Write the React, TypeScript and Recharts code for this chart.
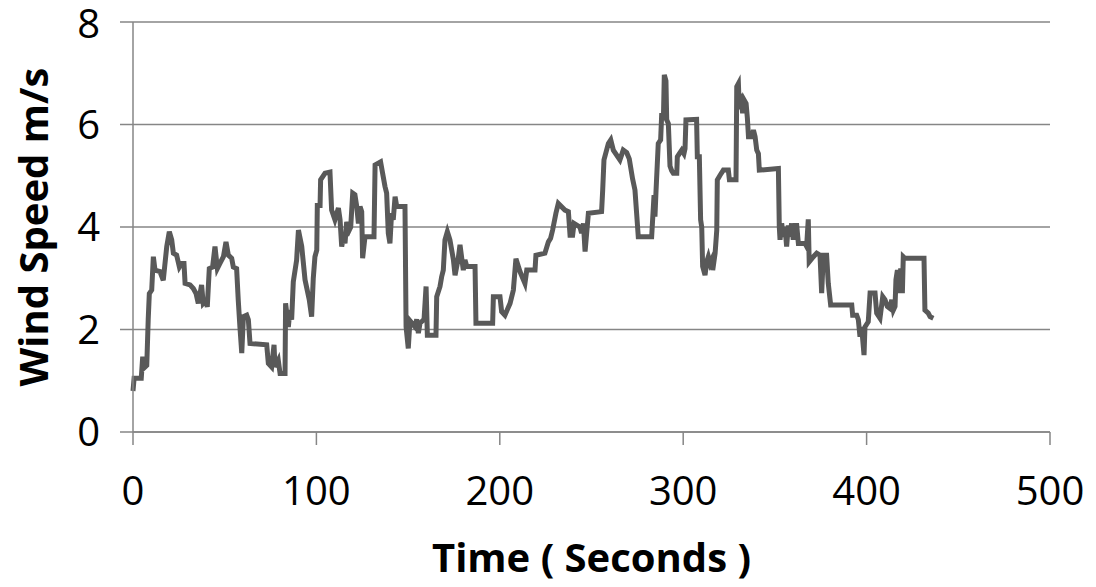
import { LineChart, Line, XAxis, YAxis, CartesianGrid, Label } from 'recharts';

// time (s) and wind speed (m/s)
const timeSec = [
  0, 0.6, 4.5, 5.3, 6, 7.5, 8.3, 8.9, 10.2, 11.1, 12, 14.7, 16.5, 18.4, 19.8, 21.1, 22, 23.8, 25.3, 26.5,
  27.8, 28.4, 31.1, 32.9, 34.4, 35.6, 37.4, 38.3, 39.8, 40.5, 41.6, 43.4, 44.7, 46, 47.4, 49.3, 50.7, 52, 53.8, 54.7,
  56.5, 57.4, 58.3, 59.3, 60.2, 62, 62.9, 63.8, 72.9, 73.8, 75.6, 76.9, 77.4, 79.2, 80.2, 82.9, 83.2, 84.7, 85.6, 86.5,
  87.4, 89.2, 90.2, 92, 93.8, 96.1, 97.4, 98.3, 99.2, 100.2, 100.5, 102, 102.3, 104.7, 107.4, 108.3, 110.1, 112, 112.9, 113.8,
  114.7, 115.6, 116.5, 117.9, 118.7, 119.8, 121, 122, 122.9, 123.8, 124.7, 125.2, 126.5, 131.4, 132, 135, 136.1, 137.4, 138.3, 139.2,
  140.1, 141, 141.9, 142.9, 143.8, 148.3, 148.9, 150.1, 151, 153.8, 154.7, 155.6, 156.5, 158.7, 159.8, 160.5, 165.2, 165.6, 167.4, 168.3,
  169.2, 170.1, 171.4, 172.8, 174.7, 175.6, 177.4, 178.3, 180.1, 181, 182, 186.5, 187, 196.1, 196.5, 200.1, 201, 202.8, 205.6, 207.4,
  208.8, 211, 213.7, 214.7, 219.2, 219.7, 224.6, 226.5, 227.7, 228.8, 230.6, 231.9, 235.5, 237.4, 238.3, 239.7, 240.5, 243.7, 244.6, 245.6,
  246.5, 248.3, 255.5, 256.1, 256.8, 259.2, 260.5, 261.9, 265.5, 267.3, 269.2, 270.6, 272.4, 273.7, 274.6, 275.5, 282.8, 284.1, 284.6, 285.2,
  286.4, 287.7, 288.3, 289.2, 289.7, 290.6, 291, 291.9, 292.8, 293.7, 294.6, 296.5, 296.8, 297.9, 299.2, 300.4, 301, 301.5, 307.3, 307.7,
  308.8, 309.5, 310.1, 310.6, 311.9, 312.8, 313.7, 314.6, 315.5, 316.1, 317.4, 318.3, 318.6, 320.1, 321.9, 324.6, 325.2, 328.8, 329.2, 330.1,
  330.6, 331.5, 332.4, 333.2, 334.3, 335, 335.6, 337.4, 338.3, 339.2, 340.1, 341, 341.5, 351.9, 352.4, 352.8, 353.7, 354.6, 355.5, 356.4,
  357.3, 358.2, 359.1, 360, 360.9, 361.9, 362.8, 366.4, 367.3, 368.2, 368.7, 371, 372.8, 374.6, 375.5, 376.4, 378.2, 379.1, 380.4, 391.9,
  392.4, 394.6, 395.5, 396.4, 397.3, 398.6, 399.1, 400.9, 401.9, 404.6, 405.5, 407.3, 408.8, 410, 411.3, 412.8, 413.7, 414.6, 415.5, 416,
  416.8, 417.7, 418.6, 419.5, 420, 420.9, 431.3, 431.8, 433.6, 434.6, 436.4,
];

const windSpeed = [
  0.8, 1.05, 1.05, 1.47, 1.25, 1.3, 2.2, 2.7, 2.77, 3.42, 3.16, 3.13, 2.96, 3.62, 3.91, 3.75, 3.49, 3.45, 3.22, 3.29,
  3.29, 2.9, 2.87, 2.8, 2.7, 2.51, 2.87, 2.51, 2.57, 2.44, 3.19, 3.22, 3.62, 3.19, 3.29, 3.42, 3.71, 3.45, 3.39, 3.22,
  3.19, 2.57, 2.05, 1.54, 2.25, 2.28, 2.19, 1.73, 1.7, 1.34, 1.27, 1.7, 1.27, 1.4, 1.14, 1.14, 2.51, 2.05, 2.38, 2.19,
  2.93, 3.35, 3.94, 3.62, 2.97, 2.58, 2.25, 3.0, 3.42, 3.55, 4.42, 4.42, 4.92, 5.05, 5.07, 4.33, 4.14, 4.37, 4.14, 3.62,
  3.81, 3.68, 4.1, 3.94, 4.0, 4.66, 4.63, 4.4, 4.07, 4.4, 4.3, 3.39, 3.81, 3.81, 5.21, 5.27, 5.05, 4.79, 4.66, 3.88,
  3.68, 4.27, 4.14, 4.59, 4.4, 4.4, 2.05, 1.63, 2.17, 2.05, 2.2, 1.93, 2.12, 2.2, 2.84, 1.89, 1.89, 2.64, 2.84, 3.03,
  3.16, 3.75, 3.91, 3.75, 3.36, 3.06, 3.4, 3.65, 3.16, 3.36, 3.23, 3.23, 2.12, 2.12, 2.64, 2.64, 2.35, 2.28, 2.51, 2.77,
  3.38, 3.13, 2.9, 3.16, 3.16, 3.45, 3.49, 3.71, 3.78, 3.94, 4.27, 4.46, 4.33, 4.3, 3.84, 3.84, 4.07, 4.0, 3.88, 4.07,
  3.52, 4.27, 4.3, 4.72, 5.31, 5.63, 5.7, 5.5, 5.31, 5.5, 5.45, 5.33, 4.94, 4.72, 4.27, 3.81, 3.81, 4.62, 4.2, 4.72,
  5.63, 5.7, 6.22, 6.09, 6.97, 6.85, 6.09, 6.02, 5.19, 5.1, 5.05, 5.05, 5.37, 5.43, 5.5, 5.43, 5.53, 6.09, 6.1, 5.37,
  5.37, 4.14, 4.0, 3.23, 3.06, 3.32, 3.42, 3.29, 3.36, 3.16, 3.49, 3.94, 4.92, 5.01, 5.11, 5.11, 4.92, 4.92, 6.74, 6.8,
  6.3, 6.6, 6.22, 6.48, 6.41, 6.12, 5.76, 5.76, 5.89, 5.76, 5.5, 5.43, 5.11, 5.14, 4.0, 3.75, 4.07, 3.81, 4.0, 3.62,
  4.03, 3.81, 4.07, 3.75, 4.03, 4.03, 3.68, 3.68, 3.62, 4.15, 3.32, 3.42, 3.49, 3.45, 2.71, 3.45, 3.45, 2.9, 2.48, 2.48,
  2.28, 2.28, 2.19, 1.86, 2.05, 1.5, 2.05, 2.15, 2.71, 2.71, 2.32, 2.22, 2.64, 2.58, 2.45, 2.41, 2.58, 2.38, 2.45, 2.97,
  3.16, 2.71, 3.19, 2.71, 3.42, 3.39, 3.39, 2.38, 2.32, 2.25, 2.22,
];

const xTicks = [0, 100, 200, 300, 400, 500];
const yTicks = [0, 2, 4, 6, 8];

const data = timeSec.map((t, i) => ({ t, v: windSpeed[i] }));

const FONT = '"Open Sans", sans-serif';
const GRID = '#868686';

const YTitle = ({ viewBox }: any) => {
  const x = viewBox.x + 48;
  const y = viewBox.y + viewBox.height / 2;
  return (
    <text
      x={x}
      y={y}
      transform={`rotate(-90 ${x} ${y})`}
      textAnchor="middle"
      fontFamily={FONT}
      fontWeight={700}
      fontSize={40}
      fill="#000"
    >
      Wind Speed m/s
    </text>
  );
};

export default function App() {
  return (
    <div style={{ position: 'absolute', left: 0, top: 0, background: '#fff' }}>
      <LineChart width={1096} height={587} data={data} margin={{ top: 22, right: 46, bottom: 0, left: 0 }}>
        <CartesianGrid vertical={false} stroke={GRID} strokeWidth={1.5} />
        <XAxis
          dataKey="t"
          type="number"
          domain={[0, 500]}
          ticks={xTicks}
          height={155}
          axisLine={{ stroke: GRID, strokeWidth: 1.5 }}
          tickLine={{ stroke: GRID, strokeWidth: 1.5 }}
          tickSize={13}
          tickMargin={32}
          tick={{ fontSize: 40, fill: '#000', fontFamily: FONT }}
        >
          <Label
            value="Time ( Seconds )"
            position="insideBottom"
            offset={15}
            style={{ fontSize: 40, fontWeight: 700, fill: '#000', fontFamily: FONT }}
          />
        </XAxis>
        <YAxis
          type="number"
          domain={[0, 8]}
          ticks={yTicks}
          width={133}
          axisLine={{ stroke: GRID, strokeWidth: 1.5 }}
          tickLine={{ stroke: GRID, strokeWidth: 1.5 }}
          tickSize={13}
          tickMargin={20}
          tick={{ fontSize: 40, fill: '#000', fontFamily: FONT }}
        >
          <Label content={YTitle} />
        </YAxis>
        <Line
          type="linear"
          dataKey="v"
          stroke="#595959"
          strokeWidth={5}
          dot={false}
          isAnimationActive={false}
        />
      </LineChart>
    </div>
  );
}
